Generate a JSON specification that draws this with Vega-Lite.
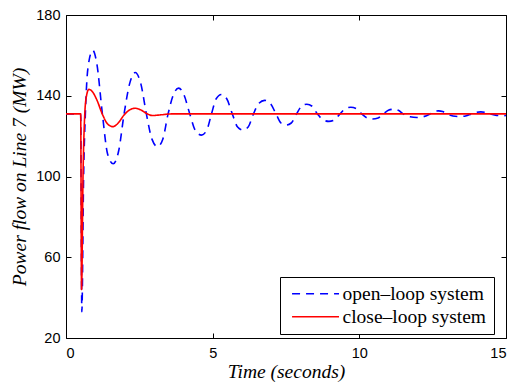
{
  "$schema": "https://vega.github.io/schema/vega-lite/v6.json",
  "width": 440,
  "height": 323,
  "autosize": {"type": "none"},
  "padding": {"left": 66, "top": 15, "right": 14, "bottom": 50},
  "config": {
    "view": {"stroke": "#000", "strokeWidth": 1},
    "axis": {
      "grid": false,
      "domain": false,
      "tickColor": "#000",
      "tickSize": -5,
      "tickWidth": 1,
      "labelFont": "Liberation Sans",
      "labelFontSize": 14.5,
      "labelColor": "#000",
      "titleFont": "Liberation Serif",
      "titleFontStyle": "italic",
      "titleFontWeight": "normal",
      "titleFontSize": 19.5,
      "titleColor": "#000"
    },
    "legend": {
      "title": null,
      "orient": "none",
      "legendX": 214,
      "legendY": 262,
      "fillColor": "#fff",
      "strokeColor": "#000",
      "padding": 7,
      "symbolType": "M-0.6,0H5.4",
      "symbolSize": 245,
      "symbolStrokeWidth": 1.5,
      "labelFont": "Liberation Serif",
      "labelFontSize": 19.5,
      "labelColor": "#000",
      "labelOffset": 36,
      "rowPadding": 2,
      "cornerRadius": 0
    }
  },
  "data": {
    "values": [
      {"t": 0, "v": 131, "s": "open–loop system"},
      {"t": 0.5, "v": 131, "s": "open–loop system"},
      {"t": 0.54, "v": 33, "s": "open–loop system"},
      {"t": 0.6, "v": 100, "s": "open–loop system"},
      {"t": 0.66, "v": 131, "s": "open–loop system"},
      {"t": 0.75, "v": 154, "s": "open–loop system"},
      {"t": 0.91, "v": 162.5, "s": "open–loop system"},
      {"t": 1.05, "v": 156, "s": "open–loop system"},
      {"t": 1.24, "v": 131, "s": "open–loop system"},
      {"t": 1.42, "v": 111, "s": "open–loop system"},
      {"t": 1.61, "v": 106.3, "s": "open–loop system"},
      {"t": 1.8, "v": 113, "s": "open–loop system"},
      {"t": 1.98, "v": 131, "s": "open–loop system"},
      {"t": 2.17, "v": 146, "s": "open–loop system"},
      {"t": 2.36, "v": 151.5, "s": "open–loop system"},
      {"t": 2.55, "v": 146, "s": "open–loop system"},
      {"t": 2.74, "v": 131, "s": "open–loop system"},
      {"t": 2.93, "v": 118.5, "s": "open–loop system"},
      {"t": 3.12, "v": 114.8, "s": "open–loop system"},
      {"t": 3.3, "v": 118.5, "s": "open–loop system"},
      {"t": 3.48, "v": 131, "s": "open–loop system"},
      {"t": 3.66, "v": 140.5, "s": "open–loop system"},
      {"t": 3.84, "v": 143.8, "s": "open–loop system"},
      {"t": 4.02, "v": 140.5, "s": "open–loop system"},
      {"t": 4.22, "v": 131, "s": "open–loop system"},
      {"t": 4.42, "v": 122.5, "s": "open–loop system"},
      {"t": 4.62, "v": 120.5, "s": "open–loop system"},
      {"t": 4.8, "v": 123, "s": "open–loop system"},
      {"t": 4.96, "v": 131, "s": "open–loop system"},
      {"t": 5.12, "v": 138.5, "s": "open–loop system"},
      {"t": 5.3, "v": 140.6, "s": "open–loop system"},
      {"t": 5.48, "v": 138.5, "s": "open–loop system"},
      {"t": 5.67, "v": 131, "s": "open–loop system"},
      {"t": 5.85, "v": 124.5, "s": "open–loop system"},
      {"t": 6.03, "v": 123, "s": "open–loop system"},
      {"t": 6.21, "v": 124.5, "s": "open–loop system"},
      {"t": 6.39, "v": 131, "s": "open–loop system"},
      {"t": 6.58, "v": 136.3, "s": "open–loop system"},
      {"t": 6.77, "v": 137.7, "s": "open–loop system"},
      {"t": 6.96, "v": 136.3, "s": "open–loop system"},
      {"t": 7.16, "v": 131, "s": "open–loop system"},
      {"t": 7.33, "v": 126.5, "s": "open–loop system"},
      {"t": 7.5, "v": 125.5, "s": "open–loop system"},
      {"t": 7.68, "v": 126.5, "s": "open–loop system"},
      {"t": 7.86, "v": 131, "s": "open–loop system"},
      {"t": 8.03, "v": 134.8, "s": "open–loop system"},
      {"t": 8.21, "v": 135.8, "s": "open–loop system"},
      {"t": 8.39, "v": 134.8, "s": "open–loop system"},
      {"t": 8.57, "v": 131, "s": "open–loop system"},
      {"t": 8.77, "v": 128, "s": "open–loop system"},
      {"t": 8.96, "v": 127.3, "s": "open–loop system"},
      {"t": 9.15, "v": 128, "s": "open–loop system"},
      {"t": 9.34, "v": 131, "s": "open–loop system"},
      {"t": 9.52, "v": 133.6, "s": "open–loop system"},
      {"t": 9.71, "v": 134.3, "s": "open–loop system"},
      {"t": 9.9, "v": 133.6, "s": "open–loop system"},
      {"t": 10.08, "v": 131, "s": "open–loop system"},
      {"t": 10.27, "v": 129, "s": "open–loop system"},
      {"t": 10.45, "v": 128.5, "s": "open–loop system"},
      {"t": 10.64, "v": 129, "s": "open–loop system"},
      {"t": 10.82, "v": 131, "s": "open–loop system"},
      {"t": 10.99, "v": 132.8, "s": "open–loop system"},
      {"t": 11.16, "v": 133.3, "s": "open–loop system"},
      {"t": 11.33, "v": 132.8, "s": "open–loop system"},
      {"t": 11.5, "v": 131, "s": "open–loop system"},
      {"t": 11.73, "v": 129.6, "s": "open–loop system"},
      {"t": 11.96, "v": 129.2, "s": "open–loop system"},
      {"t": 12.18, "v": 129.6, "s": "open–loop system"},
      {"t": 12.41, "v": 131, "s": "open–loop system"},
      {"t": 12.55, "v": 132.2, "s": "open–loop system"},
      {"t": 12.7, "v": 132.5, "s": "open–loop system"},
      {"t": 12.84, "v": 132.2, "s": "open–loop system"},
      {"t": 12.98, "v": 131, "s": "open–loop system"},
      {"t": 13.19, "v": 130, "s": "open–loop system"},
      {"t": 13.4, "v": 129.7, "s": "open–loop system"},
      {"t": 13.62, "v": 130, "s": "open–loop system"},
      {"t": 13.83, "v": 131, "s": "open–loop system"},
      {"t": 13.99, "v": 131.8, "s": "open–loop system"},
      {"t": 14.14, "v": 132, "s": "open–loop system"},
      {"t": 14.3, "v": 131.8, "s": "open–loop system"},
      {"t": 14.45, "v": 131, "s": "open–loop system"},
      {"t": 14.68, "v": 130.3, "s": "open–loop system"},
      {"t": 14.9, "v": 130.1, "s": "open–loop system"},
      {"t": 15, "v": 130.2, "s": "open–loop system"},
      {"t": 0, "v": 131, "s": "close–loop system"},
      {"t": 0.5, "v": 131, "s": "close–loop system"},
      {"t": 0.53, "v": 44, "s": "close–loop system"},
      {"t": 0.58, "v": 100, "s": "close–loop system"},
      {"t": 0.64, "v": 131, "s": "close–loop system"},
      {"t": 0.7, "v": 140, "s": "close–loop system"},
      {"t": 0.78, "v": 143.2, "s": "close–loop system"},
      {"t": 0.9, "v": 142, "s": "close–loop system"},
      {"t": 1.05, "v": 138, "s": "close–loop system"},
      {"t": 1.25, "v": 130.5, "s": "close–loop system"},
      {"t": 1.42, "v": 126, "s": "close–loop system"},
      {"t": 1.6, "v": 124.7, "s": "close–loop system"},
      {"t": 1.78, "v": 126.5, "s": "close–loop system"},
      {"t": 1.98, "v": 130.5, "s": "close–loop system"},
      {"t": 2.15, "v": 132.8, "s": "close–loop system"},
      {"t": 2.35, "v": 133.8, "s": "close–loop system"},
      {"t": 2.55, "v": 133, "s": "close–loop system"},
      {"t": 2.75, "v": 131.2, "s": "close–loop system"},
      {"t": 2.95, "v": 130.2, "s": "close–loop system"},
      {"t": 3.2, "v": 130.5, "s": "close–loop system"},
      {"t": 3.6, "v": 131, "s": "close–loop system"},
      {"t": 15, "v": 131, "s": "close–loop system"}
    ]
  },
  "layer": [
    {
      "mark": {"type": "line", "interpolate": "monotone", "strokeWidth": 1.6},
      "encoding": {
        "x": {"field": "t", "type": "quantitative", "scale": {"domain": [0, 15], "nice": false}, "axis": {"values": [0, 5, 10, 15], "title": "Time (seconds)", "labelPadding": 13, "titlePadding": 3}},
        "y": {"field": "v", "type": "quantitative", "scale": {"domain": [20, 180], "nice": false, "zero": false}, "axis": {"values": [20, 60, 100, 140, 180], "title": "Power flow on Line 7 (MW)", "labelPadding": 11, "titlePadding": 6}},
        "color": {"field": "s", "type": "nominal", "sort": ["open–loop system", "close–loop system"], "scale": {"domain": ["open–loop system", "close–loop system"], "range": ["#0000ff", "#ff0000"]}},
        "strokeDash": {"field": "s", "type": "nominal", "sort": ["open–loop system", "close–loop system"], "scale": {"domain": ["open–loop system", "close–loop system"], "range": [[8, 6], [1, 0]]}}
      }
    },
    {
      "mark": {"type": "line", "opacity": 0},
      "encoding": {
        "x": {"field": "t", "type": "quantitative", "axis": {"orient": "top", "values": [0, 5, 10, 15], "labels": false, "title": null}},
        "y": {"field": "v", "type": "quantitative", "axis": {"orient": "right", "values": [20, 60, 100, 140, 180], "labels": false, "title": null}}
      }
    }
  ],
  "resolve": {"axis": {"x": "independent", "y": "independent"}}
}
